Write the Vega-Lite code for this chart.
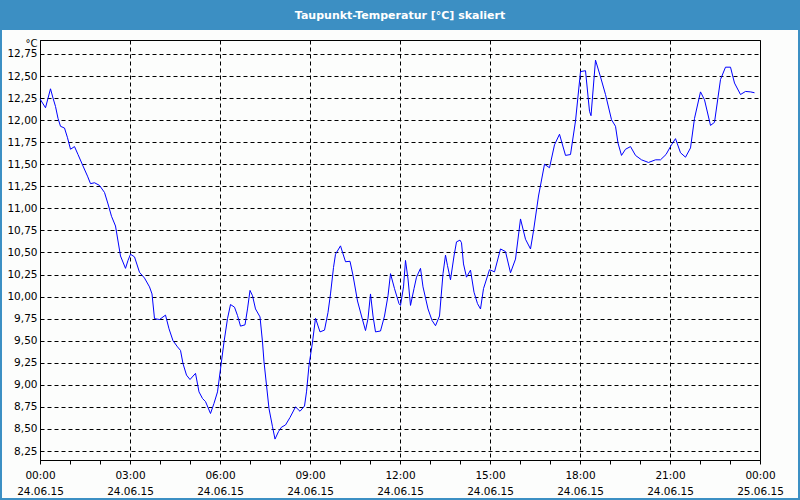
{
  "$schema": "https://vega.github.io/schema/vega-lite/v6.json",
  "width": 720,
  "height": 420,
  "autosize": "none",
  "padding": {"left": 40, "top": 40, "right": 40, "bottom": 40},
  "background": "#fcfdfc",
  "title": {
    "text": "Taupunkt-Temperatur [°C] skaliert",
    "color": "#ffffff",
    "font": "DejaVu Sans",
    "fontSize": 11,
    "fontWeight": "bold",
    "anchor": "middle",
    "frame": "group",
    "offset": -22,
    "zindex": 1
  },
  "config": {
    "view": {"stroke": "#000000", "strokeWidth": 1},
    "axis": {
      "labelFont": "DejaVu Sans",
      "labelFontSize": 10.5,
      "labelColor": "#000000",
      "titleFont": "DejaVu Sans",
      "titleColor": "#000000",
      "domainColor": "#000000",
      "tickColor": "#000000",
      "gridColor": "#000000",
      "gridDash": [4, 3],
      "gridWidth": 1
    }
  },
  "data": {
    "values": [
      {"t": "2015-06-24T00:00", "v": 12.24},
      {"t": "2015-06-24T00:11", "v": 12.14},
      {"t": "2015-06-24T00:21", "v": 12.355},
      {"t": "2015-06-24T00:26", "v": 12.25},
      {"t": "2015-06-24T00:31", "v": 12.155},
      {"t": "2015-06-24T00:36", "v": 12.02},
      {"t": "2015-06-24T00:41", "v": 11.93},
      {"t": "2015-06-24T00:49", "v": 11.91},
      {"t": "2015-06-24T00:55", "v": 11.8},
      {"t": "2015-06-24T01:01", "v": 11.67},
      {"t": "2015-06-24T01:09", "v": 11.7},
      {"t": "2015-06-24T01:16", "v": 11.61},
      {"t": "2015-06-24T01:26", "v": 11.48},
      {"t": "2015-06-24T01:35", "v": 11.365},
      {"t": "2015-06-24T01:41", "v": 11.28},
      {"t": "2015-06-24T01:49", "v": 11.29},
      {"t": "2015-06-24T01:59", "v": 11.26},
      {"t": "2015-06-24T02:09", "v": 11.18},
      {"t": "2015-06-24T02:16", "v": 11.05},
      {"t": "2015-06-24T02:23", "v": 10.91},
      {"t": "2015-06-24T02:31", "v": 10.8},
      {"t": "2015-06-24T02:36", "v": 10.63},
      {"t": "2015-06-24T02:41", "v": 10.46},
      {"t": "2015-06-24T02:51", "v": 10.32},
      {"t": "2015-06-24T02:56", "v": 10.41},
      {"t": "2015-06-24T03:01", "v": 10.48},
      {"t": "2015-06-24T03:09", "v": 10.45},
      {"t": "2015-06-24T03:19", "v": 10.275},
      {"t": "2015-06-24T03:29", "v": 10.21},
      {"t": "2015-06-24T03:39", "v": 10.11},
      {"t": "2015-06-24T03:44", "v": 10.03},
      {"t": "2015-06-24T03:49", "v": 9.75},
      {"t": "2015-06-24T03:59", "v": 9.74},
      {"t": "2015-06-24T04:11", "v": 9.79},
      {"t": "2015-06-24T04:18", "v": 9.635},
      {"t": "2015-06-24T04:26", "v": 9.5},
      {"t": "2015-06-24T04:35", "v": 9.43},
      {"t": "2015-06-24T04:41", "v": 9.39},
      {"t": "2015-06-24T04:46", "v": 9.24},
      {"t": "2015-06-24T04:53", "v": 9.11},
      {"t": "2015-06-24T05:00", "v": 9.06},
      {"t": "2015-06-24T05:11", "v": 9.13},
      {"t": "2015-06-24T05:18", "v": 8.92},
      {"t": "2015-06-24T05:25", "v": 8.845},
      {"t": "2015-06-24T05:31", "v": 8.81},
      {"t": "2015-06-24T05:41", "v": 8.675},
      {"t": "2015-06-24T05:48", "v": 8.79},
      {"t": "2015-06-24T05:55", "v": 8.92},
      {"t": "2015-06-24T06:01", "v": 9.18},
      {"t": "2015-06-24T06:08", "v": 9.485},
      {"t": "2015-06-24T06:15", "v": 9.75},
      {"t": "2015-06-24T06:21", "v": 9.91},
      {"t": "2015-06-24T06:29", "v": 9.88},
      {"t": "2015-06-24T06:35", "v": 9.785},
      {"t": "2015-06-24T06:41", "v": 9.665},
      {"t": "2015-06-24T06:50", "v": 9.68},
      {"t": "2015-06-24T06:55", "v": 9.86},
      {"t": "2015-06-24T07:00", "v": 10.07},
      {"t": "2015-06-24T07:05", "v": 10.01},
      {"t": "2015-06-24T07:11", "v": 9.86},
      {"t": "2015-06-24T07:20", "v": 9.77},
      {"t": "2015-06-24T07:25", "v": 9.485},
      {"t": "2015-06-24T07:28", "v": 9.26},
      {"t": "2015-06-24T07:33", "v": 8.995},
      {"t": "2015-06-24T07:38", "v": 8.73},
      {"t": "2015-06-24T07:45", "v": 8.525},
      {"t": "2015-06-24T07:50", "v": 8.385},
      {"t": "2015-06-24T07:57", "v": 8.47},
      {"t": "2015-06-24T08:03", "v": 8.52},
      {"t": "2015-06-24T08:11", "v": 8.545},
      {"t": "2015-06-24T08:20", "v": 8.63},
      {"t": "2015-06-24T08:31", "v": 8.75},
      {"t": "2015-06-24T08:40", "v": 8.7},
      {"t": "2015-06-24T08:49", "v": 8.76},
      {"t": "2015-06-24T08:53", "v": 8.92},
      {"t": "2015-06-24T08:58", "v": 9.22},
      {"t": "2015-06-24T09:05", "v": 9.485},
      {"t": "2015-06-24T09:11", "v": 9.755},
      {"t": "2015-06-24T09:20", "v": 9.6},
      {"t": "2015-06-24T09:29", "v": 9.62},
      {"t": "2015-06-24T09:36", "v": 9.82},
      {"t": "2015-06-24T09:41", "v": 10.03},
      {"t": "2015-06-24T09:47", "v": 10.33},
      {"t": "2015-06-24T09:51", "v": 10.48},
      {"t": "2015-06-24T10:01", "v": 10.575},
      {"t": "2015-06-24T10:11", "v": 10.395},
      {"t": "2015-06-24T10:20", "v": 10.4},
      {"t": "2015-06-24T10:26", "v": 10.24},
      {"t": "2015-06-24T10:35", "v": 9.95},
      {"t": "2015-06-24T10:43", "v": 9.78},
      {"t": "2015-06-24T10:51", "v": 9.615},
      {"t": "2015-06-24T10:56", "v": 9.75},
      {"t": "2015-06-24T11:01", "v": 10.03},
      {"t": "2015-06-24T11:06", "v": 9.78},
      {"t": "2015-06-24T11:11", "v": 9.6},
      {"t": "2015-06-24T11:21", "v": 9.61},
      {"t": "2015-06-24T11:29", "v": 9.78},
      {"t": "2015-06-24T11:36", "v": 10.01},
      {"t": "2015-06-24T11:41", "v": 10.26},
      {"t": "2015-06-24T11:49", "v": 10.09},
      {"t": "2015-06-24T11:58", "v": 9.92},
      {"t": "2015-06-24T12:01", "v": 9.9},
      {"t": "2015-06-24T12:07", "v": 10.11},
      {"t": "2015-06-24T12:11", "v": 10.41},
      {"t": "2015-06-24T12:16", "v": 10.2},
      {"t": "2015-06-24T12:21", "v": 9.9},
      {"t": "2015-06-24T12:28", "v": 10.09},
      {"t": "2015-06-24T12:33", "v": 10.22},
      {"t": "2015-06-24T12:41", "v": 10.32},
      {"t": "2015-06-24T12:46", "v": 10.11},
      {"t": "2015-06-24T12:56", "v": 9.86},
      {"t": "2015-06-24T13:04", "v": 9.73},
      {"t": "2015-06-24T13:11", "v": 9.67},
      {"t": "2015-06-24T13:19", "v": 9.78},
      {"t": "2015-06-24T13:26", "v": 10.26},
      {"t": "2015-06-24T13:31", "v": 10.47},
      {"t": "2015-06-24T13:35", "v": 10.35},
      {"t": "2015-06-24T13:41", "v": 10.19},
      {"t": "2015-06-24T13:48", "v": 10.46},
      {"t": "2015-06-24T13:53", "v": 10.62},
      {"t": "2015-06-24T14:00", "v": 10.64},
      {"t": "2015-06-24T14:03", "v": 10.61},
      {"t": "2015-06-24T14:07", "v": 10.37},
      {"t": "2015-06-24T14:13", "v": 10.22},
      {"t": "2015-06-24T14:21", "v": 10.3},
      {"t": "2015-06-24T14:28", "v": 10.05},
      {"t": "2015-06-24T14:35", "v": 9.92},
      {"t": "2015-06-24T14:41", "v": 9.86},
      {"t": "2015-06-24T14:47", "v": 10.09},
      {"t": "2015-06-24T14:59", "v": 10.305},
      {"t": "2015-06-24T15:09", "v": 10.28},
      {"t": "2015-06-24T15:21", "v": 10.54},
      {"t": "2015-06-24T15:31", "v": 10.51},
      {"t": "2015-06-24T15:41", "v": 10.27},
      {"t": "2015-06-24T15:51", "v": 10.425},
      {"t": "2015-06-24T16:01", "v": 10.88},
      {"t": "2015-06-24T16:11", "v": 10.65},
      {"t": "2015-06-24T16:21", "v": 10.54},
      {"t": "2015-06-24T16:27", "v": 10.745},
      {"t": "2015-06-24T16:37", "v": 11.14},
      {"t": "2015-06-24T16:49", "v": 11.5},
      {"t": "2015-06-24T16:59", "v": 11.46},
      {"t": "2015-06-24T17:09", "v": 11.72},
      {"t": "2015-06-24T17:19", "v": 11.84},
      {"t": "2015-06-24T17:31", "v": 11.6},
      {"t": "2015-06-24T17:41", "v": 11.61},
      {"t": "2015-06-24T17:51", "v": 11.99},
      {"t": "2015-06-24T18:01", "v": 12.55},
      {"t": "2015-06-24T18:11", "v": 12.56},
      {"t": "2015-06-24T18:19", "v": 12.1},
      {"t": "2015-06-24T18:22", "v": 12.05},
      {"t": "2015-06-24T18:31", "v": 12.68},
      {"t": "2015-06-24T18:41", "v": 12.49},
      {"t": "2015-06-24T18:51", "v": 12.29},
      {"t": "2015-06-24T19:03", "v": 12.005},
      {"t": "2015-06-24T19:11", "v": 11.93},
      {"t": "2015-06-24T19:16", "v": 11.74},
      {"t": "2015-06-24T19:23", "v": 11.6},
      {"t": "2015-06-24T19:31", "v": 11.67},
      {"t": "2015-06-24T19:41", "v": 11.7},
      {"t": "2015-06-24T19:51", "v": 11.6},
      {"t": "2015-06-24T20:03", "v": 11.55},
      {"t": "2015-06-24T20:17", "v": 11.52},
      {"t": "2015-06-24T20:31", "v": 11.55},
      {"t": "2015-06-24T20:41", "v": 11.55},
      {"t": "2015-06-24T20:52", "v": 11.61},
      {"t": "2015-06-24T21:03", "v": 11.72},
      {"t": "2015-06-24T21:11", "v": 11.79},
      {"t": "2015-06-24T21:21", "v": 11.63},
      {"t": "2015-06-24T21:31", "v": 11.58},
      {"t": "2015-06-24T21:41", "v": 11.685},
      {"t": "2015-06-24T21:49", "v": 12.02},
      {"t": "2015-06-24T22:01", "v": 12.32},
      {"t": "2015-06-24T22:09", "v": 12.23},
      {"t": "2015-06-24T22:21", "v": 11.94},
      {"t": "2015-06-24T22:29", "v": 11.975},
      {"t": "2015-06-24T22:41", "v": 12.46},
      {"t": "2015-06-24T22:51", "v": 12.6},
      {"t": "2015-06-24T23:01", "v": 12.6},
      {"t": "2015-06-24T23:09", "v": 12.42},
      {"t": "2015-06-24T23:21", "v": 12.29},
      {"t": "2015-06-24T23:31", "v": 12.325},
      {"t": "2015-06-24T23:41", "v": 12.32},
      {"t": "2015-06-24T23:49", "v": 12.31}
    ]
  },
  "layer": [
    {
      "mark": {"type": "line", "color": "#0000ff", "strokeWidth": 1},
      "encoding": {
        "x": {
          "field": "t", "type": "temporal",
          "scale": {"domain": [{"year": 2015, "month": 6, "date": 24, "hours": 0}, {"year": 2015, "month": 6, "date": 25, "hours": 0}]},
          "axis": {
            "title": null,
            "grid": true,
            "tickCount": 30,
            "values": [
              {"year": 2015, "month": 6, "date": 24, "hours": 0},
              {"year": 2015, "month": 6, "date": 24, "hours": 1},
              {"year": 2015, "month": 6, "date": 24, "hours": 2},
              {"year": 2015, "month": 6, "date": 24, "hours": 3},
              {"year": 2015, "month": 6, "date": 24, "hours": 4},
              {"year": 2015, "month": 6, "date": 24, "hours": 5},
              {"year": 2015, "month": 6, "date": 24, "hours": 6},
              {"year": 2015, "month": 6, "date": 24, "hours": 7},
              {"year": 2015, "month": 6, "date": 24, "hours": 8},
              {"year": 2015, "month": 6, "date": 24, "hours": 9},
              {"year": 2015, "month": 6, "date": 24, "hours": 10},
              {"year": 2015, "month": 6, "date": 24, "hours": 11},
              {"year": 2015, "month": 6, "date": 24, "hours": 12},
              {"year": 2015, "month": 6, "date": 24, "hours": 13},
              {"year": 2015, "month": 6, "date": 24, "hours": 14},
              {"year": 2015, "month": 6, "date": 24, "hours": 15},
              {"year": 2015, "month": 6, "date": 24, "hours": 16},
              {"year": 2015, "month": 6, "date": 24, "hours": 17},
              {"year": 2015, "month": 6, "date": 24, "hours": 18},
              {"year": 2015, "month": 6, "date": 24, "hours": 19},
              {"year": 2015, "month": 6, "date": 24, "hours": 20},
              {"year": 2015, "month": 6, "date": 24, "hours": 21},
              {"year": 2015, "month": 6, "date": 24, "hours": 22},
              {"year": 2015, "month": 6, "date": 24, "hours": 23},
              {"year": 2015, "month": 6, "date": 25, "hours": 0}
            ],
            "tickSize": 4,
            "labelPadding": 6,
            "labelLineHeight": 16,
            "labelOverlap": false,
            "labelFlush": false,
            "labelExpr": "hours(datum.value) % 3 == 0 ? [timeFormat(datum.value, '%H:%M'), timeFormat(datum.value, '%d.%m.%y')] : ''",
            "gridOpacity": {"condition": {"test": "hours(datum.value) % 3 == 0", "value": 1}, "value": 0}
          }
        },
        "y": {
          "field": "v", "type": "quantitative",
          "scale": {"domain": [8.148, 12.908], "nice": false, "zero": false},
          "axis": {
            "title": "°C",
            "grid": true,
            "tickCount": 30,
            "titleAngle": 0,
            "titleAlign": "right",
            "titleBaseline": "alphabetic",
            "titleX": -3,
            "titleY": 6,
            "titleFontSize": 10,
            "titleFontWeight": "normal",
            "tickSize": 0,
            "labelPadding": 3,
            "labelOverlap": false,
            "values": [8.25, 8.5, 8.75, 9, 9.25, 9.5, 9.75, 10, 10.25, 10.5, 10.75, 11, 11.25, 11.5, 11.75, 12, 12.25, 12.5, 12.75],
            "labelExpr": "replace(format(datum.value, '.2f'), '.', ',')"
          }
        }
      }
    },
    {
      "mark": {"type": "rect", "color": "#3c8fc3"},
      "encoding": {
        "x": {"datum": {"year": 2015, "month": 6, "date": 23, "hours": 22, "minutes": 40}, "type": "temporal"},
        "x2": {"datum": {"year": 2015, "month": 6, "date": 25, "hours": 1, "minutes": 20}},
        "y": {"datum": 13.361, "type": "quantitative"},
        "y2": {"datum": 13.021}
      }
    },
    {
      "mark": {"type": "rect", "filled": false, "color": "#3c8fc3", "strokeWidth": 3},
      "encoding": {
        "x": {"datum": {"year": 2015, "month": 6, "date": 23, "hours": 22, "minutes": 40}, "type": "temporal"},
        "x2": {"datum": {"year": 2015, "month": 6, "date": 25, "hours": 1, "minutes": 20}},
        "y": {"datum": 13.361, "type": "quantitative"},
        "y2": {"datum": 7.695}
      }
    }
  ]
}
